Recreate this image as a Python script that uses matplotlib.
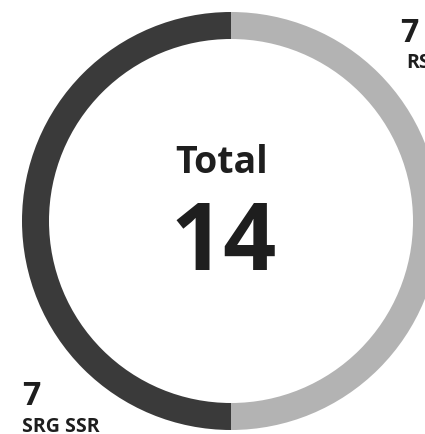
import matplotlib
matplotlib.use('Agg')
import matplotlib.pyplot as plt

# data
labels = ['RS', 'SRG SSR']
values = [7, 7]
colors = ['#b3b3b3', '#3a3a3a']
total = sum(values)

W, H = 425, 435
fig = plt.figure(figsize=(W / 100, H / 100), dpi=100)
ax = fig.add_axes([0, 0, 1, 1])

# donut, in pixel coordinates (y flipped)
cx, cy, r = 231, H - 222, 209
ax.pie(values, colors=colors, startangle=90, counterclock=False,
       center=(cx, cy), radius=r, wedgeprops=dict(width=27, linewidth=0))
ax.set_xlim(0, W)
ax.set_ylim(0, H)
ax.set_aspect('auto')
ax.axis('off')

font = ['Open Sans', 'DejaVu Sans']
ink = '#1e1e1e'
ax.text(cx - 9, H - 163, 'Total', ha='center', va='center', fontsize=27,
        fontweight='bold', color=ink, family=font)
ax.text(cx - 7, H - 246, str(total), ha='center', va='center', fontsize=67,
        fontweight='bold', color=ink, family=font)

# outer labels
ax.text(400, H - 34, str(values[0]), ha='left', va='center', fontsize=23,
        fontweight='bold', color=ink, family=font)
ax.text(406, H - 63, labels[0], ha='left', va='center', fontsize=14,
        fontweight='bold', color=ink, family=font)
ax.text(22, H - 397, str(values[1]), ha='left', va='center', fontsize=23,
        fontweight='bold', color=ink, family=font)
ax.text(22, H - 427, labels[1], ha='left', va='center', fontsize=14,
        fontweight='bold', color=ink, family=font)

fig.savefig('out.png', dpi=100)
